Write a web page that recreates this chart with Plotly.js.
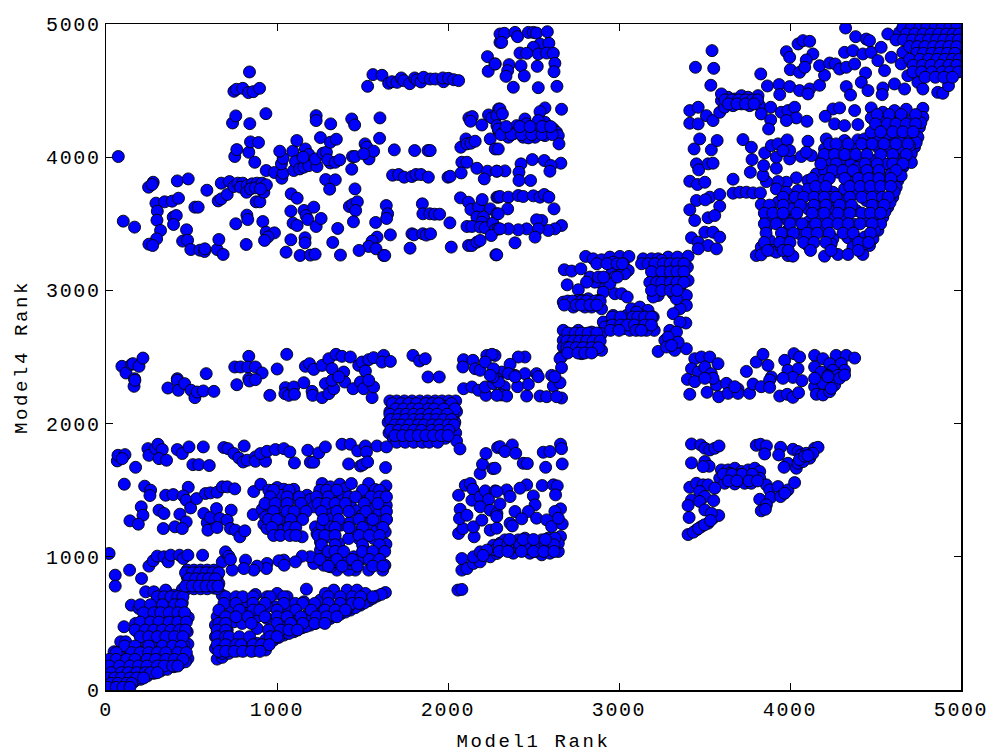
<!DOCTYPE html>
<html><head><meta charset="utf-8">
<script src="https://cdn.plot.ly/plotly-3.0.1.min.js"></script>
<style>
html,body{margin:0;padding:0;background:#fff}
.xtick text,.ytick text{letter-spacing:1.6px}
.xtitle,.ytitle{letter-spacing:2.6px}
</style></head><body><div id="plot" style="width:995px;height:753px"></div>
<script>
const tickValues=[0,1000,2000,3000,4000,5000];
const topLeft=[[72,4005],[101,3520],[167,3475],[249,3775],[276,3812],[270,3795],[417,3822],[481,3837],[590,3752],[292,3655],[343,3665],[387,3670],[424,3692],[300,3595],[298,3527],[319,3450],[296,3387],[251,3347],[273,3337],[393,3550],[411,3562],[395,3495],[520,3625],[539,3625],[471,3455],[448,3370],[477,3377],[496,3307],[549,3302],[576,3292],[578,3312],[650,3307],[660,3382],[685,3270],[656,3672],[674,3687],[709,3720],[759,3500],[824,3565],[829,3532],[820,3345],[917,3517],[937,3437],[985,3432],[948,3402],[927,3375],[878,3665],[900,3665],[1083,3725],[1118,3692],[1081,3595],[1094,3505],[1118,3487],[1081,3380],[1053,3287],[1135,3262],[1195,3265],[1223,3272],[1164,3395],[1164,3357],[1158,3600],[1170,3562],[1180,3532],[1215,3625],[1229,3480],[1258,3540],[1326,3360],[1355,3465],[1371,3265],[1285,3832],[1341,3830],[1308,3760],[1456,3762],[1437,3910],[1423,3630],[1441,3645],[1470,3665],[1460,3600],[1447,3515],[1577,3510],[1639,3637],[1647,3575],[1641,3540],[1663,3417],[1585,3400],[1556,3370],[1536,3330],[1579,3312],[1480,3300],[1624,3262],[1630,3262],[1778,3317],[1789,3425],[1801,3417],[1853,3425],[1873,3415],[1898,3425],[1850,3650],[1853,3575],[1894,3575],[1922,3572],[1951,3572],[2011,3507],[2019,3325]];
const topLeftUpper=[[753,4005],[765,4057],[835,4037],[870,3962],[845,4115],[892,4110],[740,4257],[759,4310],[841,4252],[935,4327],[839,4640],[748,4495],[763,4510],[800,4517],[833,4485],[861,4492],[898,4517],[674,3805],[722,3817],[748,3780],[771,3805],[800,3805],[787,3775],[826,3787],[822,3737],[855,3800],[845,3762],[884,3805],[874,3770],[913,3805],[923,3737],[938,3792],[903,3762],[937,3900],[985,3885],[1028,3842],[1036,3880],[1026,3950],[1036,3992],[1016,4045],[1092,4045],[1116,4125],[1098,3900],[1108,3967],[1133,3912],[1157,3925],[1186,3937],[1234,3930],[1166,4062],[1186,4020],[1153,4000],[1225,3987],[1269,4030],[1289,4037],[1312,3957],[1297,3980],[1341,3962],[1367,3980],[1254,4147],[1312,4112],[1347,4135],[1229,4312],[1229,4275],[1314,4250],[1437,4287],[1454,4242],[1602,4295],[1600,4142],[1441,4005],[1456,4005],[1515,4100],[1526,4075],[1538,3987],[1565,4045],[1507,4025],[1686,4055],[1805,4050],[1883,4050],[1896,4050],[1676,3865],[1711,3870],[1744,3850],[1789,3855],[1813,3870],[1842,3870],[1885,3850],[2000,3850],[2013,3857]];
const row4600=[[1530,4532],[1561,4620],[1614,4615],[1653,4555],[1672,4567],[1702,4562],[1727,4595],[1741,4575],[1776,4552],[1805,4595],[1819,4580],[1842,4565],[1857,4600],[1896,4587],[1926,4587],[1974,4567],[1970,4595],[2003,4592],[2033,4582],[2062,4575]];
const topMiddle=[[2075,4075],[2105,4137],[2111,4100],[2134,4105],[2159,4120],[2081,3962],[2111,3962],[2077,3882],[2169,3917],[2231,3895],[2286,3895],[2212,3837],[2073,3695],[2120,3662],[2134,3607],[2179,3625],[2200,3682],[2247,3612],[2286,3700],[2296,3700],[2286,3575],[2169,3550],[2208,3550],[2198,3512],[2111,3480],[2140,3480],[2188,3475],[2218,3470],[2263,3505],[2277,3455],[2296,3462],[2253,3412],[2120,3337],[2140,3337],[2169,3362],[2188,3375],[2280,3267],[2231,4755],[2276,4700],[2235,4645],[2304,4862],[2304,4925],[2122,4295],[2142,4305],[2132,4270],[2198,4242],[2237,4317],[2257,4295],[2296,4362],[2286,4312],[2247,4137],[2276,4062],[2286,4237],[2296,4200],[2330,4930],[2314,4862],[2392,4937],[2407,4905],[2470,4937],[2499,4937],[2518,4932],[2581,4942],[2538,4850],[2590,4855],[2499,4825],[2421,4782],[2460,4780],[2528,4775],[2577,4782],[2616,4780],[2625,4705],[2620,4642],[2275,4700],[2357,4695],[2349,4650],[2339,4607],[2427,4687],[2446,4610],[2522,4682],[2382,4525],[2528,4522],[2637,4532],[2664,4360],[2567,4370],[2538,4342],[2304,4362],[2318,4325],[2450,4287],[2567,4262],[2528,4275],[2294,4212],[2324,4187],[2353,4150],[2353,4200],[2382,4200],[2402,4237],[2411,4187],[2440,4212],[2460,4250],[2470,4187],[2499,4212],[2509,4150],[2538,4187],[2567,4162],[2586,4225],[2616,4212],[2635,4187],[2645,4162],[2649,4100],[2294,4062],[2440,4150],[2470,4145],[2382,4175],[2660,3955],[2493,3982],[2563,3975],[2602,3937],[2596,3895],[2427,3950],[2415,3887],[2415,3825],[2483,3825],[2333,3897],[2285,3895],[2304,3705],[2353,3700],[2411,3712],[2440,3705],[2499,3710],[2538,3700],[2563,3720],[2590,3700],[2620,3612],[2349,3612],[2294,3575],[2664,3487],[2625,3462],[2586,3450],[2548,3525],[2518,3530],[2528,3462],[2509,3400],[2460,3462],[2411,3455],[2353,3462],[2304,3462],[2392,3357],[2285,3267]];
const centerBlockUpper=[[2805,3255],[2849,3237],[2898,3230],[2947,3250],[3005,3255],[3058,3255],[2966,3212],[3025,3200],[3054,3150],[3034,3125],[2995,3175],[2956,3125],[2927,3087],[2898,3050],[2859,3062],[2830,3100],[2810,3062],[2976,3100],[2947,3050],[2908,2987],[2976,2975],[3015,2975],[3048,2950],[2680,3155],[2723,3145],[2777,3162],[2697,3042],[2762,3005],[2674,2912],[2694,2900],[2733,2875],[2762,2925],[2791,2925],[2820,2937],[2849,2912],[2879,2925],[2898,2862],[2801,2875],[2840,2875],[3141,3237],[3132,3200],[3190,3237],[3229,3237],[3287,3250],[3342,3250],[3404,3257],[3200,3087],[3229,3125],[3268,3175],[3307,3100],[3346,3175],[3400,3175],[3404,3075],[3209,3012],[3229,2962],[3200,2950],[3268,3037],[3317,2975],[3356,3025],[3394,2962],[3248,3225],[3365,3100],[3287,3087],[3394,2887],[3356,2862],[3336,2937],[3317,2825],[3391,2755],[3356,2762]];
const centerBlockLower=[[2937,2762],[2908,2762],[2966,2812],[2947,2737],[2995,2750],[3025,2712],[3044,2812],[3073,2862],[3122,2875],[3093,2800],[3063,2737],[3063,2700],[3132,2762],[3112,2712],[3170,2850],[3200,2800],[3206,2700],[3161,2700],[3170,2762],[3132,2812],[3102,2837],[2917,2725],[2898,2675],[3229,2542],[3268,2625],[3297,2700],[3336,2687],[3287,2650],[3326,2550],[3394,2562],[3346,2612],[3278,2575],[3307,2587],[2674,2700],[2723,2675],[2762,2700],[2801,2675],[2840,2687],[2674,2625],[2713,2600],[2752,2625],[2791,2600],[2830,2625],[2869,2650],[2674,2575],[2732,2550],[2781,2525],[2810,2562],[2859,2550],[2898,2550],[2742,2650],[2771,2562],[2664,2500],[2655,2487],[2664,2420]];
const midRow2400Right=[[2450,2500],[2411,2500],[2363,2445],[2275,2512],[2392,2362],[2450,2375],[2518,2375],[2606,2362],[2314,2387],[2353,2375],[2329,2277],[2314,2215],[2343,2207],[2407,2277],[2460,2207],[2470,2295],[2538,2207],[2577,2202],[2616,2282],[2655,2307],[2664,2192],[2635,2202],[2285,2340],[2392,2352],[2528,2352],[2625,2352],[2091,2262],[2140,2275],[2179,2250],[2222,2212],[2218,2275],[2266,2300],[2286,2212],[2296,2312],[2263,2350],[2091,2480],[2087,2425],[2146,2475],[2159,2412],[2188,2400],[2227,2512],[2257,2520],[2218,2462],[2266,2412],[2247,2362]];
const midRow2400Left=[[93,2430],[117,2380],[150,2445],[158,2450],[193,2430],[216,2492],[167,2337],[417,2337],[586,2375],[753,2425],[787,2425],[835,2505],[829,2425],[874,2425],[913,2380],[835,2337],[1001,2410],[1057,2520],[1166,2430],[1190,2450],[1215,2407],[1264,2437],[1303,2487],[1345,2520],[1380,2505],[1429,2500],[1322,2412],[1390,2387],[1478,2437],[1497,2462],[1536,2480],[1565,2495],[1517,2395],[1624,2512],[1614,2462],[1663,2467],[1795,2512],[1834,2470],[1867,2487],[1883,2350],[1949,2350],[164,2280],[169,2325],[362,2267],[417,2325],[423,2250],[460,2300],[498,2250],[520,2195],[533,2237],[569,2245],[631,2242],[765,2292],[839,2320],[874,2330],[958,2212],[1049,2270],[1046,2225],[1069,2212],[1098,2275],[1102,2220],[1157,2307],[1205,2242],[1209,2212],[1264,2195],[1283,2300],[1303,2225],[1332,2262],[1396,2312],[1445,2262],[1488,2312],[1507,2262],[1556,2195],[1565,2275],[1536,2325],[1322,2325],[1361,2350]];
const row1800Left=[[66,1720],[70,1762],[111,1767],[95,1737],[173,1672],[245,1812],[251,1762],[290,1812],[304,1845],[329,1805],[310,1737],[354,1725],[417,1805],[446,1775],[485,1825],[569,1825],[508,1692],[543,1692],[604,1685],[689,1820],[713,1812],[748,1775],[777,1742],[808,1832],[802,1712],[826,1725],[874,1750],[874,1717],[933,1717],[903,1775],[942,1792],[991,1805],[1040,1812],[1075,1787],[1102,1705],[1180,1800],[1195,1710],[1215,1710],[1244,1780],[1283,1825],[1380,1845],[1429,1845],[1472,1795],[1517,1832],[1523,1787],[1585,1832],[1419,1697],[1488,1682],[1503,1692],[1530,1712],[1635,1670]];
const lowerLeftScatter=[[107,1545],[226,1530],[261,1500],[257,1460],[349,1462],[393,1467],[481,1522],[452,1457],[469,1425],[495,1367],[530,1437],[582,1475],[611,1480],[650,1485],[680,1525],[709,1525],[753,1510],[864,1490],[905,1545],[952,1500],[1001,1520],[1040,1507],[1030,1462],[1098,1507],[1108,1437],[1176,1462],[1195,1430],[206,1375],[216,1312],[140,1270],[189,1245],[310,1350],[339,1325],[335,1212],[403,1225],[432,1320],[469,1262],[446,1212],[572,1325],[592,1255],[611,1295],[646,1362],[666,1287],[732,1350],[596,1200],[650,1220],[709,1275],[728,1212],[757,1200],[783,1150],[812,1195],[861,1317],[913,1355],[966,1400],[1030,1362],[923,1245],[942,1212],[972,1275],[1001,1212],[1040,1212],[1059,1262],[1088,1212],[1114,1300],[1147,1325],[1147,1150],[1079,1225],[933,1300],[1020,1287],[1215,1375]];
const lowerLeftBlock=[[1264,1550],[1312,1525],[1367,1545],[1400,1512],[1435,1550],[1536,1550],[1575,1505],[1637,1532],[1517,1462],[1624,1470],[1264,1437],[1332,1475],[1386,1445],[1312,1350],[1429,1387],[1468,1345],[1565,1362],[1639,1387],[1600,1337],[1639,1282],[1526,1300],[1322,1287],[1371,1237],[1429,1262],[1497,1312],[1225,1225],[1234,1175],[1264,1237],[1312,1225],[1303,1150],[1254,1112],[1254,1050],[1283,1000],[1361,1100],[1351,1037],[1458,1187],[1507,1150],[1507,1062],[1400,1000],[1449,1000],[1556,1225],[1585,1200],[1633,1187],[1637,1095],[1565,1137],[1600,1262],[1618,1050],[1478,1137],[1419,1137],[1507,987],[1575,975],[1631,937],[1618,900],[1536,900],[1458,900],[1419,900],[1478,975],[1429,950],[1351,900],[1312,925],[1273,937],[1332,962],[1410,975],[1215,950],[1195,1000],[1147,1005],[1108,962],[1040,975],[1011,970],[1042,937],[942,950],[938,912],[884,930],[864,900],[816,975],[806,912],[738,900],[18,1025],[54,862],[54,780],[138,900],[208,837],[251,930],[276,970],[300,1005],[339,1000],[364,962],[378,1012],[430,1012],[452,987],[479,1012],[565,1012],[680,962],[699,1037],[718,1005],[728,980]];
const block800=[[475,900],[514,900],[553,900],[592,900],[631,900],[495,875],[535,875],[575,875],[612,875],[650,875],[475,850],[514,850],[553,850],[592,850],[631,850],[650,850],[495,825],[535,825],[575,825],[612,825],[645,825],[475,800],[514,800],[553,800],[592,800],[631,800],[660,800],[475,760],[514,760],[553,760],[592,760],[631,765],[680,712],[650,762],[446,755]];
const cornerOrigin=[[105,475],[86,362],[115,362],[47,287],[148,637],[193,612],[232,737],[280,737],[349,750],[397,712],[446,655],[481,545],[475,437],[479,345],[479,237],[241,612],[300,650],[339,600],[378,625],[436,550],[387,525],[339,525],[290,562],[232,550],[173,500],[193,425],[251,475],[300,450],[349,462],[397,437],[446,412],[222,375],[271,362],[319,375],[368,375],[417,362],[456,337],[300,325],[358,312],[407,300],[452,275],[222,285],[173,250],[134,300],[271,262],[319,250],[378,250],[426,237],[86,250],[47,200],[115,187],[164,175],[212,200],[261,200],[8,150],[66,137],[27,75],[105,112],[154,112],[202,137],[18,25],[47,25],[86,30],[125,37],[164,62],[202,80],[241,105],[280,125],[319,142],[358,155],[397,175],[436,200],[465,212],[66,62],[8,75],[12,112],[115,62]];
const lowerDiagonal=[[650,232],[680,245],[718,275],[767,292],[816,300],[864,295],[933,300],[981,375],[1040,412],[1098,437],[1147,467],[1195,487],[1254,512],[1312,537],[1371,570],[1429,600],[1487,637],[1536,670],[1585,705],[1634,732],[1010,395],[1070,425],[1122,452],[1170,477],[1225,500],[1283,525],[1342,553],[1400,585],[1458,618],[1510,653],[1560,688],[1610,718],[650,550],[640,487],[640,400],[640,312],[670,350],[709,450],[728,625],[748,512],[796,500],[777,637],[826,662],[874,717],[942,700],[1001,725],[1059,700],[816,575],[884,550],[942,537],[991,625],[1059,600],[1108,650],[1157,662],[1205,612],[1040,512],[1108,525],[1176,562],[1254,675],[1332,750],[1410,750],[1468,750],[1517,725],[1390,675],[1332,625],[1264,587],[1172,757],[767,375],[826,362],[884,350],[933,375],[690,425],[680,275],[728,350],[660,400],[1419,625],[1283,725],[1108,575],[942,625],[884,462]];
const denseCenter=[[1660,2170],[1700,2170],[1745,2170],[1790,2170],[1835,2170],[1880,2170],[1925,2170],[1965,2170],[2005,2170],[2045,2170],[1680,2130],[1720,2130],[1765,2130],[1810,2130],[1855,2130],[1900,2130],[1945,2130],[1985,2130],[2030,2130],[1660,2090],[1700,2090],[1745,2090],[1790,2090],[1835,2090],[1880,2090],[1925,2090],[1965,2090],[2010,2090],[2050,2090],[1680,2050],[1725,2050],[1770,2050],[1810,2050],[1855,2050],[1900,2050],[1945,2050],[1985,2050],[2030,2050],[1650,2010],[1695,2010],[1740,2010],[1785,2010],[1830,2010],[1875,2010],[1920,2010],[1965,2010],[2005,2010],[2040,2010],[1675,1970],[1720,1970],[1765,1970],[1810,1970],[1850,1970],[1895,1970],[1940,1970],[1985,1970],[2025,1970],[1655,1930],[1700,1930],[1745,1930],[1790,1930],[1835,1930],[1880,1930],[1925,1930],[1965,1930],[2010,1930],[2045,1930],[1680,1890],[1725,1890],[1770,1890],[1810,1890],[1855,1890],[1900,1890],[1945,1890],[1985,1890],[1700,1860],[1750,1860],[1800,1860],[1850,1860],[1890,1860],[1940,1860],[2050,1870],[2070,1810],[1640,1825]];
const lowerMiddle=[[2058,750],[2081,755],[2081,900],[2081,987],[2111,912],[2149,950],[2188,962],[2247,1000],[2286,1025],[2149,1000],[2188,1037],[2266,1087],[2062,1175],[2087,1212],[2071,1357],[2067,1287],[2062,1462],[2101,1537],[2130,1550],[2146,1507],[2153,1150],[2149,1225],[2140,1425],[2188,1450],[2218,1495],[2276,1495],[2237,1430],[2188,1375],[2247,1350],[2286,1325],[2247,1200],[2198,1275],[2188,1625],[2202,1695],[2262,1662],[2222,1775],[2290,1820],[2111,1312],[2304,1827],[2376,1840],[2333,1790],[2396,1777],[2440,1702],[2464,1700],[2557,1785],[2596,1790],[2658,1845],[2664,1812],[2571,1672],[2668,1697],[2275,1665],[2460,1540],[2421,1515],[2343,1502],[2363,1452],[2285,1490],[2551,1535],[2616,1540],[2639,1532],[2629,1465],[2499,1457],[2509,1390],[2470,1340],[2392,1340],[2304,1397],[2285,1302],[2431,1285],[2518,1290],[2577,1277],[2658,1360],[2625,1340],[2363,1252],[2376,1232],[2606,1227],[2668,1247],[2645,1290],[2285,1215],[2658,1152],[2275,1052],[2304,1102],[2333,1052],[2333,1127],[2372,1102],[2382,1027],[2411,1127],[2411,1065],[2450,1140],[2450,1077],[2479,1027],[2489,1102],[2528,1065],[2548,1015],[2548,1127],[2586,1140],[2596,1027],[2596,1090],[2645,1040],[2645,1102],[2625,1140],[2227,1050],[2205,1010],[2305,1050],[2360,1060],[2430,1100],[2470,1060],[2510,1040],[2570,1075],[2620,1070]];
const lowerRight=[[3424,1847],[3478,1840],[3502,1815],[3531,1802],[3560,1815],[3585,1832],[3424,1705],[3502,1715],[3527,1680],[3492,1677],[3803,1837],[3827,1845],[3862,1832],[3852,1772],[3945,1822],[3934,1765],[4017,1807],[4047,1790],[3988,1702],[3965,1672],[4037,1665],[4066,1765],[4047,1702],[4095,1777],[4115,1740],[4144,1815],[4164,1822],[4134,1777],[4076,1715],[4055,1730],[4085,1755],[4105,1760],[3599,1652],[3638,1652],[3677,1665],[3716,1640],[3755,1652],[3794,1665],[3823,1640],[3589,1590],[3628,1602],[3667,1590],[3706,1577],[3745,1590],[3784,1602],[3823,1590],[3618,1552],[3677,1547],[3735,1552],[3774,1552],[3648,1627],[3696,1615],[3414,1522],[3453,1552],[3492,1540],[3521,1540],[3560,1515],[3424,1427],[3404,1385],[3410,1295],[3404,1167],[3453,1202],[3482,1227],[3521,1252],[3550,1290],[3583,1310],[3472,1490],[3502,1452],[3554,1422],[3472,1415],[3502,1352],[3541,1327],[3435,1185],[3465,1212],[3500,1240],[3535,1272],[3862,1540],[3881,1502],[3823,1432],[3887,1445],[3862,1390],[3832,1345],[3856,1357],[3930,1527],[3945,1452],[3988,1502],[4027,1557],[3969,1477]];
const rightRow2400=[[3443,2487],[3482,2500],[3531,2500],[3579,2450],[3424,2412],[3463,2387],[3502,2425],[3540,2375],[3745,2392],[3803,2462],[3842,2520],[3871,2437],[3969,2475],[4023,2525],[4056,2500],[3988,2400],[4047,2412],[4144,2512],[4193,2487],[4270,2512],[4329,2512],[4378,2492],[4232,2450],[4300,2450],[4319,2400],[4251,2400],[4144,2425],[4183,2387],[4222,2362],[4280,2362],[3891,2350],[3400,2332],[3443,2315],[3414,2220],[3515,2235],[3583,2202],[3570,2290],[3628,2302],[3638,2227],[3696,2260],[3696,2227],[3764,2227],[3784,2297],[3832,2277],[3881,2327],[3881,2272],[3940,2207],[3984,2220],[4017,2197],[4050,2232],[4017,2347],[4070,2322],[3959,2340],[4144,2277],[4154,2220],[4193,2215],[4232,2240],[4193,2302],[4261,2290],[4290,2340],[4319,2365],[4222,2352],[4144,2340],[4241,2265],[3677,2277],[3550,2340],[3502,2340]];
const upperRightColumn=[[3544,4800],[3447,4675],[3554,4667],[3537,4540],[3414,4350],[3463,4375],[3414,4255],[3463,4250],[3511,4312],[3550,4275],[3589,4337],[3599,4425],[3638,4450],[3677,4437],[3716,4462],[3755,4450],[3813,4462],[3618,4375],[3667,4387],[3716,4400],[3764,4387],[3823,4387],[3599,4475],[3439,4062],[3472,4137],[3540,4055],[3574,4125],[3725,4132],[3774,4075],[3778,3982],[3768,3887],[3667,3835],[3453,3950],[3466,3905],[3414,3820],[3459,3795],[3502,3812],[3521,3950],[3550,3955],[3453,3675],[3531,3700],[3589,3720],[3589,3632],[3414,3605],[3443,3525],[3521,3545],[3560,3562],[3505,3680],[3424,3395],[3463,3362],[3502,3437],[3550,3437],[3589,3400],[3521,3337],[3570,3312],[3463,3312],[3667,3730],[3706,3737],[3745,3737],[3784,3732],[3827,3732]];
const upperRightTop=[[3829,4625],[3868,4535],[3936,4545],[3998,4530],[3940,4470],[4056,4500],[4115,4512],[4173,4540],[4105,4475],[3979,4792],[3998,4750],[4047,4850],[4076,4875],[4115,4870],[4134,4775],[4095,4730],[4002,4657],[4056,4637],[4086,4675],[4202,4615],[4173,4687],[4232,4707],[4265,4700],[4325,4970],[4384,4905],[4290,4662],[4329,4675],[4378,4700],[4319,4787],[4368,4800],[4446,4887],[4465,4875],[4426,4775],[4475,4787],[4533,4825],[4572,4925],[4640,4937],[4514,4725],[4553,4650],[4592,4750],[4660,4787],[4650,4700],[4611,4550],[4670,4512],[4689,4612],[4748,4562],[4777,4512],[4864,4487],[4894,4480],[4927,4537],[4442,4632],[4417,4562],[4329,4530],[4354,4467],[4456,4500],[4543,4520],[4539,4470]];
const denseCorner=[[4660,4975],[4710,4975],[4760,4975],[4800,4975],[4850,4975],[4890,4975],[4935,4975],[4975,4975],[4680,4925],[4730,4925],[4780,4925],[4825,4925],[4870,4925],[4915,4925],[4955,4925],[4990,4925],[4620,4880],[4665,4880],[4715,4880],[4765,4880],[4810,4880],[4855,4880],[4900,4880],[4945,4880],[4985,4880],[4700,4830],[4745,4830],[4790,4830],[4840,4830],[4885,4830],[4930,4830],[4975,4830],[4740,4780],[4780,4780],[4830,4780],[4875,4780],[4920,4780],[4965,4780],[4700,4735],[4760,4735],[4810,4735],[4860,4735],[4905,4735],[4950,4735],[4990,4735],[4720,4690],[4775,4690],[4825,4690],[4880,4690],[4930,4690],[4975,4690],[4720,4640],[4770,4640],[4830,4640],[4890,4640],[4935,4640],[4985,4640],[4790,4600],[4850,4600],[4900,4600],[4950,4600]];
const upperRightEdge=[[4777,4367],[4777,4300],[4757,4225],[4748,4150],[4728,4075],[4689,4000],[4660,3925],[4631,3825],[4621,3775],[4601,3700],[4572,3625],[4543,3550],[4514,3450],[4485,3387],[4465,3337],[4426,3270],[4709,4025],[4640,3887],[4765,4260],[4738,4110],[4710,3960],[4650,3860],[4610,3740],[4585,3660],[4555,3590],[4530,3500]];
const upperRightBody=[[4251,4362],[4290,4370],[4378,4350],[4475,4370],[4543,4337],[4611,4350],[4680,4360],[4206,4307],[4261,4250],[4319,4237],[4397,4245],[4475,4295],[4533,4262],[4592,4300],[4650,4287],[4709,4275],[4212,4137],[4319,4125],[4397,4130],[4436,4137],[4514,4155],[4601,4150],[4660,4125],[4689,4175],[4202,4062],[4241,4075],[4300,4050],[4368,4062],[4446,4087],[4514,4075],[4582,4075],[4640,4050],[4183,3975],[4232,3950],[4300,3975],[4358,3950],[4417,3987],[4494,3975],[4572,3945],[4621,3975],[4154,3875],[4202,3900],[4280,3887],[4339,3875],[4417,3875],[4494,3887],[4543,3850],[4592,3875],[4105,3825],[4193,3825],[4368,3812],[4426,3812],[4485,3812],[4563,3812],[4037,3845],[3979,3812],[3930,3817],[3862,3817],[3842,3862],[3846,3937],[3920,3917],[3998,3987],[4066,4005],[4125,4012],[3920,4000],[3852,4032],[3891,4087],[3930,4100],[3984,4130],[3998,4050],[4105,4120],[4095,4037],[3959,4050],[3887,4375],[3832,4325],[3949,4337],[3988,4350],[4027,4375],[4037,4295],[4099,4270],[3979,4275],[3887,4280],[3875,4212],[3920,3762],[3979,3737],[4047,3750],[4105,3762],[4173,3750],[4251,3737],[4319,3762],[4378,3725],[4446,3737],[4494,3750],[3832,3645],[3881,3612],[3930,3662],[4008,3675],[4008,3612],[4105,3612],[4173,3650],[4251,3662],[4319,3600],[4387,3600],[4446,3675],[4523,3662],[3862,3550],[3930,3550],[3988,3525],[4027,3537],[4105,3512],[4173,3550],[4241,3550],[4310,3525],[4378,3495],[4446,3525],[4504,3575],[3862,3475],[3988,3450],[4056,3425],[4125,3400],[4193,3450],[4251,3387],[4339,3395],[4387,3387],[4436,3400],[4494,3450],[3881,3375],[3969,3375],[4105,3337],[4241,3350],[4368,3325],[4436,3350],[3803,3262],[3832,3325],[3832,3267],[3900,3300],[3920,3287],[3949,3325],[3988,3262],[4017,3257],[4202,3257],[4280,3270],[4339,3270],[4232,3700],[4300,3675],[4164,3575],[4125,3475],[4222,3612],[4553,3950],[4465,3925],[4397,3925],[4339,4025],[4280,4075],[4572,4175],[4475,4187],[4670,4000],[4699,4087],[4631,4212]];

// Extra points read row by row from the dense areas: [y, [x values]]
const upperRightRows=[[4320,[4510,4580,4650,4735]],[4250,[4500,4570,4620,4680,4735]],[4190,[4530,4600,4660,4720]],[4100,[4230,4270,4340,4420,4480,4550,4620,4690]],[4020,[4200,4260,4320,4385,4450,4530,4600,4680]],[3950,[4180,4270,4440,4510,4600,4660]],[3900,[4250,4310,4370,4450,4520,4620]],[3840,[4130,4230,4320,4400,4460,4520,4590]],[3780,[4150,4210,4350,4410,4470,4530,4590]],[3700,[3960,4030,4080,4140,4200,4270,4350,4420,4480,4540,4575]],[3640,[3880,3960,4060,4140,4210,4290,4360,4480,4550]],[3580,[3850,3900,3960,4040,4130,4200,4280,4350,4420,4470,4530]],[3500,[3850,3920,4000,4070,4150,4220,4280,4340,4410,4480]],[3430,[3860,3950,4020,4100,4160,4230,4310,4370,4470]],[3360,[3850,3940,4000,4080,4140,4210,4400,4460]],[3300,[3870,3960,3990,4120,4240,4400]]];
const lowerLeftRows=[[1500,[980,1070,1250,1290,1350,1500,1600]],[1450,[960,1060,1130,1230,1300,1420,1460,1550,1600,1640]],[1400,[930,990,1060,1140,1240,1290,1340,1400,1510,1590]],[1340,[980,1060,1100,1170,1260,1350,1420,1520,1640]],[1280,[950,1000,1080,1150,1270,1360,1480,1560,1640]],[1220,[970,1070,1110,1340,1420,1500,1620]],[1160,[980,1020,1075,1110,1240,1280,1340,1480,1540,1600]],[1090,[1260,1340,1500,1600]],[1040,[1300,1340,1390,1500,1560,1630]],[980,[1250,1350,1440,1540,1600]],[930,[1300,1380,1470,1560,1620]]];
const originRows=[[700,[300,340,380,420,450]],[640,[200,260,330,400,440]],[580,[220,280,320,370,420,460]],[510,[200,260,310,370,420,470]],[450,[170,230,280,330,380,430,465]],[400,[200,250,300,350,400,450]],[330,[110,170,250,330,390,440]],[280,[60,150,200,250,300,350,420,470]],[230,[20,60,120,170,240,290,350,400,450]],[180,[20,80,140,190,240,300,340,390,420]],[130,[30,90,130,180,230,260,300]],[90,[10,50,90,140,180,220]],[50,[30,70,120,150]],[20,[10,60,100,140]]];
const diagonalRows=[[700,[700,760,800,860,960,1040,1300,1370,1440,1490,1560]],[650,[690,760,860,930,1040,1150,1220,1300,1370,1440,1480]],[600,[660,780,860,900,1000,1110,1200,1280,1340,1400]],[550,[700,760,830,930,1000,1060,1140,1230,1290,1350]],[500,[660,700,850,1000,1080,1150,1220,1280]],[450,[650,700,950,1020,1070,1120]],[400,[650,700,720,780,840,960,1000]],[340,[650,700,760,790,860,910,955]],[290,[660,700,750,800,850,900]]];
const centerRows=[[2920,[2700,2730,2780,2810,2860,2890]],[2890,[2680,2750,2780,2830,2870]],[2680,[2700,2745,2780,2820,2870]],[2620,[2695,2735,2770,2810,2850,2890]],[2570,[2695,2710,2750,2790,2840,2880]],[2530,[2700,2760,2800,2840]],[3200,[3170,3210,3260,3300,3340,3380,2870,2930,2990,3020]],[3140,[3190,3250,3300,3340,3380]],[3060,[3180,3220,3250,3300,3340,3380]],[3000,[3190,3250,3300,3340]],[3100,[2880,2910,2990]],[2800,[2960,3010,3080,3110,3150,3190]],[2740,[2960,3010,3050,3090,3150,3190]],[2700,[2950,3000,3100,3130]]];
const stripRows=[[4170,[2310,2370,2430,2490,2550,2610]],[4230,[2340,2420,2480,2550,2600]],[1620,[3610,3660,3720,3780]],[1570,[3640,3690,3760,3810]],[4430,[3620,3660,3700,3740,3780,3810]],[4400,[3640,3690,3740,3790]],[1090,[2300,2350,2420,2470,2520,2570,2620]],[1040,[2300,2350,2430,2500,2560,2620]],[1130,[2360,2440,2500,2570]]];
const denseBlockRows=[[2150,[1675,1725,1770,1815,1870,1910,1945,2020]],[2110,[1695,1740,1790,1830,1885,1920,1975,2040]],[2070,[1660,1715,1755,1800,1845,1890,1935,1995]],[2030,[1665,1705,1750,1800,1840,1885,1930,1975,2020]],[1990,[1690,1730,1775,1825,1860,1910,1950,2000,2035]],[1950,[1665,1710,1755,1800,1845,1905,1950,2005]],[1910,[1690,1735,1780,1825,1870,1915,1960,2000]],[880,[465,505,545,585,625,660]],[835,[485,525,565,600,640]],[780,[465,505,545,585,625,655]]];

const allClusters=[topLeft,topLeftUpper,row4600,topMiddle,centerBlockUpper,centerBlockLower,midRow2400Right,midRow2400Left,row1800Left,lowerLeftScatter,lowerLeftBlock,block800,cornerOrigin,lowerDiagonal,denseCenter,lowerMiddle,lowerRight,rightRow2400,upperRightColumn,upperRightTop,denseCorner,upperRightEdge,upperRightBody];
const allRows=[upperRightRows,lowerLeftRows,originRows,diagonalRows,centerRows,stripRows,denseBlockRows];
const xs=[],ys=[];
allClusters.forEach(c=>c.forEach(p=>{xs.push(p[0]);ys.push(p[1]);}));
allRows.forEach(g=>g.forEach(r=>r[1].forEach(x=>{xs.push(x);ys.push(r[0]);})));
const axisFont={family:'"Liberation Mono",monospace',size:20,color:'#000'};
const titleFont={family:'"Liberation Mono",monospace',size:19,color:'#000'};
const axisCommon={range:[0,5000],tickmode:'array',tickvals:tickValues,ticktext:tickValues.map(String),
 ticks:'inside',ticklen:7,tickwidth:1,tickcolor:'#000',mirror:'ticks',showline:true,linecolor:'#000',linewidth:1.5,
 showgrid:false,zeroline:false,tickfont:axisFont,tickangle:0};
Plotly.newPlot('plot',[{type:'scatter',mode:'markers',x:xs,y:ys,
 marker:{size:12,color:'#0000ff',line:{color:'#000',width:0.9}}}],
 {width:995,height:753,showlegend:false,paper_bgcolor:'#fff',plot_bgcolor:'#fff',
 margin:{l:105.5,r:33.5,t:23.5,b:63,pad:0},
 xaxis:Object.assign({},axisCommon,{title:{text:'Model1 Rank',font:titleFont,standoff:15}}),
 yaxis:Object.assign({},axisCommon,{title:{text:'Model4 Rank',font:titleFont,standoff:13}})},
 {displayModeBar:false,staticPlot:true});
</script></body></html>
